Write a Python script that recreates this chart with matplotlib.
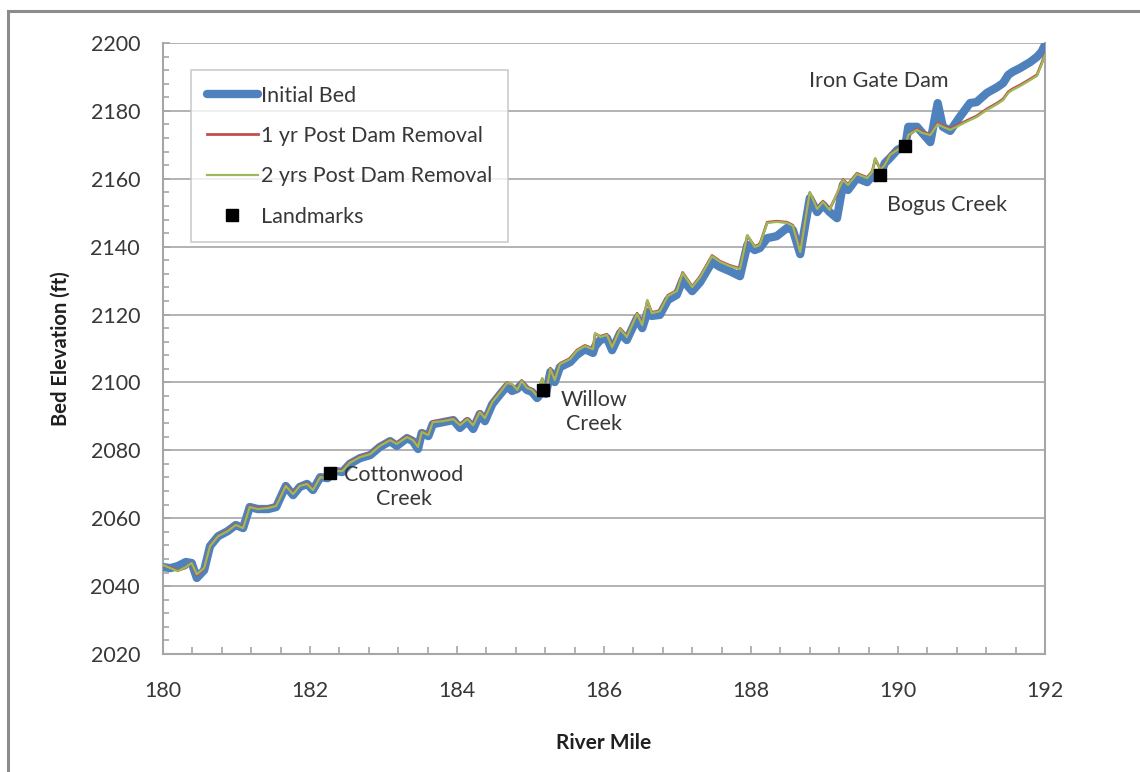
import matplotlib
matplotlib.use("Agg")
import matplotlib.pyplot as plt
from matplotlib.ticker import MultipleLocator
from matplotlib.patches import Rectangle

plt.rcParams['font.family'] = ['Lato', 'DejaVu Sans']

# River mile stations along the profile
river_mile = [
    180.00, 180.10, 180.20, 180.31, 180.39, 180.46, 180.56, 180.64, 180.75, 180.88,
    180.99, 181.09, 181.18, 181.29, 181.43, 181.54, 181.67, 181.77, 181.86, 181.96,
    182.04, 182.14, 182.24, 182.35, 182.44, 182.54, 182.68, 182.82, 182.95, 183.09,
    183.18, 183.32, 183.40, 183.47, 183.52, 183.61, 183.67, 183.81, 183.95, 184.04,
    184.14, 184.22, 184.31, 184.38, 184.48, 184.59, 184.68, 184.75, 184.82, 184.88,
    184.95, 185.02, 185.09, 185.16, 185.21, 185.27, 185.33, 185.40, 185.54, 185.63,
    185.74, 185.85, 185.88, 185.95, 186.04, 186.11, 186.22, 186.31, 186.45, 186.52,
    186.59, 186.65, 186.76, 186.87, 186.99, 187.07, 187.20, 187.31, 187.47, 187.58,
    187.71, 187.85, 187.95, 188.05, 188.12, 188.22, 188.35, 188.49, 188.57, 188.67,
    188.80, 188.90, 188.98, 189.07, 189.17, 189.25, 189.32, 189.44, 189.58, 189.65,
    189.69, 189.76, 189.82, 189.89, 189.99, 190.10, 190.14, 190.26, 190.33, 190.44,
    190.54, 190.61, 190.71, 190.84, 190.98, 191.07, 191.21, 191.35, 191.43, 191.50,
    191.56, 191.66, 191.80, 191.89, 191.95, 192.00,
]

initial_bed = [
    2045.6, 2045.3, 2045.9, 2047.1, 2046.8, 2042.4, 2044.7, 2051.8, 2054.7, 2056.2,
    2058.0, 2057.1, 2063.3, 2062.7, 2062.7, 2063.3, 2069.5, 2066.8, 2069.2, 2070.1,
    2068.3, 2072.1, 2071.8, 2073.9, 2073.6, 2076.0, 2077.7, 2078.6, 2081.0, 2082.7,
    2081.3, 2083.6, 2082.7, 2080.4, 2085.1, 2084.2, 2087.7, 2088.3, 2088.9, 2086.6,
    2088.6, 2086.3, 2090.7, 2088.6, 2093.6, 2096.6, 2098.9, 2097.5, 2098.1, 2099.5,
    2097.8, 2097.2, 2095.4, 2097.2, 2096.6, 2103.1, 2100.1, 2104.5, 2106.0, 2108.1,
    2109.8, 2108.7, 2110.7, 2112.5, 2113.1, 2109.5, 2114.6, 2112.5, 2119.0, 2116.0,
    2120.7, 2119.6, 2119.9, 2124.3, 2125.8, 2130.2, 2126.9, 2129.6, 2135.5, 2134.0,
    2132.8, 2131.3, 2140.5, 2139.0, 2139.6, 2142.5, 2143.1, 2145.5, 2144.9, 2137.8,
    2154.3, 2150.2, 2152.3, 2150.2, 2148.4, 2158.2, 2156.7, 2160.2, 2159.0, 2160.8,
    2160.2, 2161.1, 2164.6, 2166.1, 2168.5, 2169.7, 2175.3, 2175.3, 2173.5, 2170.8,
    2182.3, 2175.3, 2174.1, 2178.2, 2182.3, 2182.6, 2185.3, 2187.0, 2188.2, 2190.6,
    2191.5, 2192.6, 2194.4, 2195.9, 2197.3, 2199.4,
]

post_1yr = [
    2046.0, 2045.5, 2044.6, 2045.4, 2046.9, 2043.2, 2045.1, 2051.9, 2054.8, 2056.4,
    2058.1, 2057.3, 2063.5, 2062.9, 2063.2, 2063.8, 2069.7, 2067.3, 2069.6, 2070.3,
    2068.5, 2072.3, 2072.0, 2074.1, 2074.1, 2076.5, 2078.2, 2079.1, 2081.5, 2083.2,
    2082.1, 2084.1, 2083.2, 2081.2, 2085.6, 2084.7, 2088.5, 2088.8, 2089.4, 2087.6,
    2089.4, 2087.6, 2091.5, 2089.7, 2094.4, 2097.4, 2100.0, 2099.3, 2098.0, 2100.6,
    2098.6, 2098.0, 2096.2, 2101.0, 2097.1, 2104.2, 2100.9, 2105.6, 2107.1, 2109.5,
    2110.9, 2110.0, 2114.3, 2113.6, 2114.2, 2110.6, 2115.9, 2113.6, 2120.4, 2117.1,
    2124.0, 2120.6, 2121.2, 2125.7, 2127.1, 2132.4, 2128.3, 2131.3, 2137.4, 2135.7,
    2134.5, 2133.6, 2143.2, 2140.1, 2140.7, 2147.2, 2147.5, 2147.2, 2146.3, 2138.6,
    2155.9, 2151.3, 2153.4, 2151.0, 2155.5, 2159.8, 2158.4, 2161.6, 2160.4, 2162.2,
    2165.8, 2162.8, 2164.3, 2167.2, 2168.7, 2169.9, 2172.7, 2174.7, 2173.8, 2173.2,
    2176.4, 2175.6, 2174.7, 2176.1, 2177.6, 2178.5, 2180.6, 2182.3, 2183.5, 2185.6,
    2186.5, 2187.6, 2189.4, 2190.6, 2193.8, 2196.8,
]

post_2yr = [
    2046.2, 2045.3, 2044.4, 2045.6, 2046.8, 2043.5, 2045.3, 2051.8, 2054.7, 2056.2,
    2058.0, 2057.1, 2063.3, 2062.7, 2063.0, 2063.6, 2069.5, 2067.1, 2069.5, 2070.1,
    2068.3, 2072.1, 2071.8, 2073.9, 2073.9, 2076.3, 2078.0, 2078.9, 2081.3, 2083.0,
    2081.9, 2083.9, 2083.0, 2081.0, 2085.4, 2084.5, 2088.3, 2088.6, 2089.2, 2087.4,
    2089.2, 2087.4, 2091.3, 2089.5, 2094.2, 2097.2, 2099.8, 2099.5, 2097.8, 2100.4,
    2098.4, 2097.8, 2096.0, 2101.3, 2096.9, 2104.0, 2100.7, 2105.4, 2106.9, 2109.3,
    2110.7, 2109.8, 2114.6, 2113.4, 2114.0, 2110.4, 2115.7, 2113.4, 2120.2, 2116.9,
    2124.3, 2120.4, 2121.0, 2125.5, 2126.9, 2132.2, 2128.1, 2131.1, 2137.2, 2135.5,
    2134.3, 2133.4, 2143.4, 2139.9, 2140.5, 2147.0, 2147.3, 2147.0, 2146.1, 2138.4,
    2156.1, 2151.1, 2153.2, 2150.8, 2155.8, 2159.6, 2158.2, 2161.4, 2160.2, 2162.0,
    2166.1, 2162.6, 2164.1, 2167.0, 2168.5, 2169.7, 2172.9, 2174.4, 2173.5, 2172.9,
    2176.1, 2175.3, 2174.4, 2175.8, 2177.3, 2178.2, 2180.3, 2182.0, 2183.2, 2185.3,
    2186.2, 2187.3, 2189.1, 2190.3, 2193.5, 2196.5,
]

# Landmarks along the reach
landmark_names = ["Cottonwood\nCreek", "Willow\nCreek", "Bogus Creek", "Iron Gate Dam"]
landmark_mile = [182.27, 185.17, 189.76, 190.10]
landmark_elev = [2073.3, 2097.8, 2161.1, 2169.7]

BLUE = "#4F81BD"
RED = "#C0504D"
GREEN = "#9BBB59"
GRID = "#A6A6A6"
TEXT = "#383838"
FS = 15.5

fig = plt.figure(figsize=(11.4, 7.72), dpi=100)
ax = fig.add_axes([163 / 1140, 1 - 654 / 772, (1045 - 163) / 1140, (654 - 43) / 772])

ax.plot(river_mile, initial_bed, color=BLUE, lw=6.0, solid_joinstyle="round",
        solid_capstyle="round", label="Initial Bed", zorder=3)
ax.plot(river_mile, post_1yr, color=RED, lw=2.0, label="1 yr Post Dam Removal", zorder=4)
ax.plot(river_mile, post_2yr, color=GREEN, lw=1.6, label="2 yrs Post Dam Removal", zorder=5)
ax.plot(landmark_mile, landmark_elev, ls="none", marker="s", ms=8, color="black",
        label="Landmarks", zorder=6)

# Landmark labels
label_pos = {
    "Cottonwood\nCreek": (183.28, 2069.2),
    "Willow\nCreek": (185.86, 2091.3),
    "Bogus Creek": (190.67, 2152.3),
    "Iron Gate Dam": (189.74, 2188.8),
}
for name in landmark_names:
    x, y = label_pos[name]
    ax.text(x, y, name, ha="center", va="center", fontsize=FS, color=TEXT,
            linespacing=1.2, zorder=7)

ax.set_xlim(180, 192)
ax.set_ylim(2020, 2200)
ax.xaxis.set_major_locator(MultipleLocator(2))
ax.xaxis.set_minor_locator(MultipleLocator(0.4))
ax.yaxis.set_major_locator(MultipleLocator(20))
ax.yaxis.set_minor_locator(MultipleLocator(4))

ax.grid(axis="y", which="major", color=GRID, lw=1.2)
ax.set_axisbelow(True)
for side in ("left", "bottom", "right"):
    ax.spines[side].set_color(GRID)
    ax.spines[side].set_linewidth(1.5)
ax.spines["top"].set_visible(False)

ax.tick_params(axis="both", which="both", direction="in", colors=GRID,
               labelcolor=TEXT, labelsize=FS)
ax.tick_params(axis="y", which="major", length=5, width=1.2, pad=16.5)
ax.tick_params(axis="y", which="minor", length=4, width=1.2)
ax.tick_params(axis="x", which="major", length=6, width=1.2, pad=19.5)
ax.tick_params(axis="x", which="minor", length=5, width=1.2)

ax.set_xlabel("River Mile", fontsize=15, fontweight="bold", color="#202020", labelpad=23)
ax.set_ylabel("Bed Elevation (ft)", fontsize=14.5, fontweight="bold", color="#202020", labelpad=14)

leg = ax.legend(loc="upper left", bbox_to_anchor=(191 / 1140, 1 - 70 / 772),
                bbox_transform=fig.transFigure, fontsize=FS, frameon=True,
                fancybox=False, edgecolor="#BFBFBF", labelspacing=0.95,
                handlelength=2.4, handletextpad=0.15, borderpad=0.72,
                borderaxespad=0, labelcolor=TEXT)
leg.get_frame().set_linewidth(1.2)

# Outer chart border
fig.add_artist(Rectangle((8 / 1140, -0.05), 1.1, 1 - 11 / 772 + 0.05,
                         transform=fig.transFigure, fill=False,
                         edgecolor="#8C8C8C", lw=2.2, clip_on=False))

fig.savefig("out.png", dpi=100)
